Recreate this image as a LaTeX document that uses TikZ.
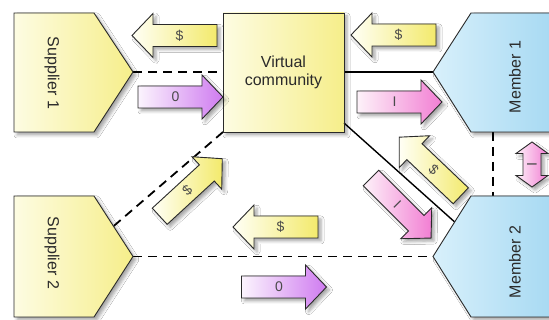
\documentclass[tikz,border=0pt]{standalone}
\usepackage{fontspec}
\setmainfont{Liberation Sans}
\usetikzlibrary{shadows.blur}

\definecolor{creamL}{HTML}{FDFCE2}
\definecolor{creamR}{HTML}{F6EE8A}
\definecolor{skyL}{HTML}{D8F0FB}
\definecolor{skyR}{HTML}{A4D8F2}
\definecolor{goldL}{HTML}{FFFFF6}
\definecolor{goldR}{HTML}{F3EA6C}
\definecolor{violetL}{HTML}{FBF4FD}
\definecolor{violetR}{HTML}{CF7BF0}
\definecolor{rosaL}{HTML}{FDF2F9}
\definecolor{rosaR}{HTML}{F27ED3}
\definecolor{ink}{HTML}{2A2A2A}

\tikzset{
  softshadow/.style={blur shadow={shadow xshift=3pt, shadow yshift=-3pt,
      shadow blur radius=3pt, shadow opacity=35}},
  outline/.style={draw=ink, line width=0.9pt},
  party/.style={outline, left color=creamL, right color=creamR, softshadow},
  member/.style={outline, left color=skyL, right color=skyR, softshadow},
  money/.style={outline, left color=goldL, right color=goldR, softshadow},
  offer/.style={outline, left color=violetL, right color=violetR, softshadow},
  info/.style={outline, left color=rosaL, right color=rosaR, softshadow},
  tie/.style={draw=black, line width=1.8pt, dash pattern=on 9pt off 6pt},
  link/.style={draw=black, line width=1.4pt},
  title/.style={font=\fontsize{16}{18.5}\selectfont, text=ink, inner sep=0pt},
  tag/.style={font=\fontsize{14}{16}\selectfont, text=ink!85, inner sep=0pt},
}

% block arrow pointing along +x of a rotated frame
\newcommand\arrowR[5]{%
  \begin{scope}[shift={#2}, rotate=#3]
    \path[#4] (-42.5,-11) -- (21.5,-11) -- (21.5,-22) -- (42.5,0)
      -- (21.5,22) -- (21.5,11) -- (-42.5,11) -- cycle;
    \node[tag, rotate=#3] (#1) at (-5,0) {#5};
  \end{scope}}
% block arrow pointing along -x of a rotated frame
\newcommand\arrowL[5]{%
  \begin{scope}[shift={#2}, rotate=#3]
    \path[#4] (42.5,-11) -- (-21.5,-11) -- (-21.5,-22) -- (-42.5,0)
      -- (-21.5,22) -- (-21.5,11) -- (42.5,11) -- cycle;
    \node[tag, rotate=#3] (#1) at (5,0) {#5};
  \end{scope}}

\begin{document}
\begin{tikzpicture}[x=1pt, y=1pt]
  \clip (0,0) rectangle (549,320);
  \fill[white] (0,0) rectangle (549,320);

  % anchor points on the outlines
  \coordinate (s1tip) at (133,248);
  \coordinate (s2tip) at (133,63.5);
  \coordinate (s2slope) at (113.5,93.8);
  \coordinate (m1tip) at (433,248);
  \coordinate (m2tip) at (433,63.5);
  \coordinate (m2slope) at (454.7,98);
  \coordinate (m1foot) at (493,188);
  \coordinate (m2head) at (493,124);

  \node[party, minimum width=121pt, minimum height=119pt, inner sep=0pt,
        outer sep=0pt, draw=none, shading=axis, left color=creamL, right color=creamR]
        (vc) at (283.5,247.5) {};

  % connectors
  \draw[tie] (s1tip) -- (s1tip -| vc.west);
  \draw[link] (vc.east |- m1tip) -- (m1tip);
  \draw[tie] (vc.south west) -- (s2slope);
  \draw[link] ([yshift=9pt]vc.south east) -- (m2slope);
  \draw[tie] (s2tip) -- (m2tip);
  \draw[tie] (m1foot) -- (m2head);

  % parties
  \path[party] (14,307) -- (94,307) -- (s1tip) -- (94,188) -- (14,188) -- cycle;
  \path[party] (14,124) -- (94,124) -- (s2tip) -- (94,3) -- (14,3) -- cycle;
  \path[member] (m1tip) -- (471,307) -- (560,307) -- (560,188) -- (471,188) -- cycle;
  \path[member] (m2tip) -- (471,124) -- (560,124) -- (560,3) -- (471,3) -- cycle;
  \draw[outline] (vc.south west) rectangle (vc.north east);
  \node[title, align=center] (vctext) at (vc.center) {Virtual\\community};

  \node[title, rotate=-90] (s1) at (52,247) {Supplier 1};
  \node[title, rotate=-90] (s2) at (52,67) {Supplier 2};
  \node[title, rotate=90] (m1) at (515,243) {Member 1};
  \node[title, rotate=90] (m2) at (515,58) {Member 2};

  % flows
  \arrowL{payA}{(174.5,284.5)}{0}{money}{\$}
  \arrowL{payB}{(393.5,285)}{0}{money}{\$}
  \arrowR{offerA}{(180.5,223)}{0}{offer}{0}
  \arrowR{infoA}{(399.5,218)}{0}{info}{I}
  \arrowL{payC}{(430,153.5)}{-43.6}{money}{\$}
  \arrowR{infoB}{(401,112)}{-45}{info}{I}
  \arrowR{payD}{(191,132.5)}{42.6}{money}{\$}
  \arrowL{payE}{(275.5,93)}{0}{money}{\$}
  \arrowR{offerB}{(284,33)}{0}{offer}{0}

  % two-way exchange between members
  \begin{scope}[shift={(532,155.5)}, rotate=-90]
    \path[info] (-22.5,0) -- (-11,16) -- (-11,9) -- (11,9) -- (11,16) -- (22.5,0)
      -- (11,-16) -- (11,-9) -- (-11,-9) -- (-11,-16) -- cycle;
    \node[tag, rotate=-90] (infoC) at (0,0) {I};
  \end{scope}
\end{tikzpicture}
\end{document}
